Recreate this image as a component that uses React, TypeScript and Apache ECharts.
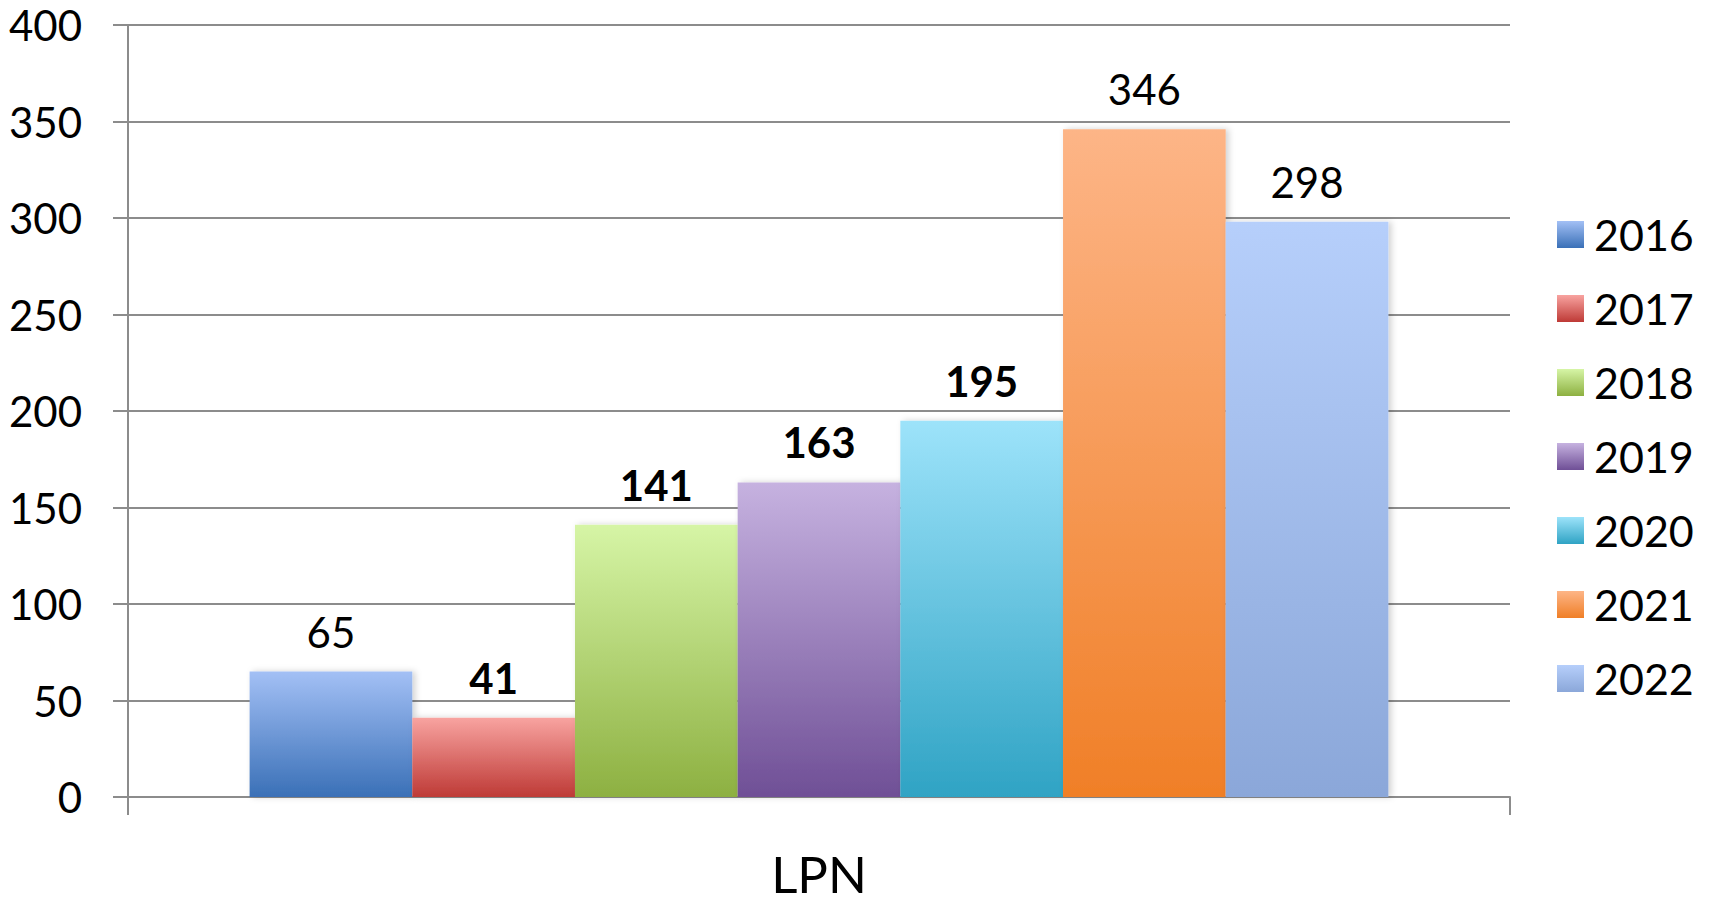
import React, { useEffect, useRef } from "react";
import * as echarts from "echarts";

const categories = ["LPN"];
const years = ["2016", "2017", "2018", "2019", "2020", "2021", "2022"];
const values = [65, 41, 141, 163, 195, 346, 298];
const boldLabel = [false, true, true, true, true, false, false];
const topColors = ["#A3C0F5", "#F8A3A0", "#D6F5A6", "#C6B2E0", "#9DE3FA", "#FDB587", "#B6CFFB"];
const bottomColors = ["#3A70B7", "#BE3A36", "#8DB041", "#6F4F96", "#2FA3C4", "#F07F27", "#8BA7D9"];
const yTicks = { min: 0, max: 400, interval: 50 };

const FONT = "Lato, 'Open Sans', sans-serif";

export default function App() {
  const ref = useRef<HTMLDivElement>(null);
  useEffect(() => {
    if (!ref.current) return;
    const chart = echarts.init(ref.current, undefined, { renderer: "svg" });
    const series = years.map((y, i) => ({
      name: y,
      type: "bar" as const,
      data: [values[i]],
      barGap: "0%",
      barCategoryGap: "17.6%",
      itemStyle: {
        color: new echarts.graphic.LinearGradient(0, 0, 0, 1, [
          { offset: 0, color: topColors[i] },
          { offset: 1, color: bottomColors[i] },
        ]),
        shadowColor: "rgba(0,0,0,0.18)",
        shadowBlur: 6,
        shadowOffsetX: 3,
        shadowOffsetY: 0,
      },
      label: {
        show: true,
        position: "top" as const,
        distance: 19,
        color: "#000",
        fontFamily: FONT,
        fontSize: 42,
        fontWeight: boldLabel[i] ? ("bold" as const) : ("normal" as const),
      },
    }));
    chart.setOption({
      animation: false,
      backgroundColor: "#fff",
      grid: { left: 128, right: 205, top: 25, bottom: 110, containLabel: false },
      legend: {
        orient: "vertical",
        left: 1552,
        top: 208,
        itemWidth: 27,
        itemHeight: 27,
        itemGap: 31,
        icon: "rect",
        data: years,
        textStyle: { color: "#000", fontFamily: FONT, fontSize: 43, padding: [0, 0, 0, 5] },
      },
      xAxis: {
        type: "category",
        data: categories,
        axisLine: { show: true, lineStyle: { color: "#8c8c8c", width: 2 } },
        axisTick: { show: true, length: 18, lineStyle: { color: "#8c8c8c", width: 2 } },
        axisLabel: { color: "#000", fontFamily: FONT, fontSize: 51, margin: 51 },
      },
      yAxis: {
        type: "value",
        min: yTicks.min,
        max: yTicks.max,
        interval: yTicks.interval,
        axisLine: { show: true, lineStyle: { color: "#8c8c8c", width: 2 } },
        axisTick: { show: true, length: 15, lineStyle: { color: "#8c8c8c", width: 2 } },
        splitLine: { show: true, lineStyle: { color: "#8c8c8c", width: 2 } },
        axisLabel: { color: "#000", fontFamily: FONT, fontSize: 42, margin: 46 },
      },
      series,
    });
    return () => chart.dispose();
  }, []);
  return (
    <div
      ref={ref}
      style={{ position: "fixed", left: 0, top: 0, width: 1715, height: 907, background: "#fff" }}
    />
  );
}
